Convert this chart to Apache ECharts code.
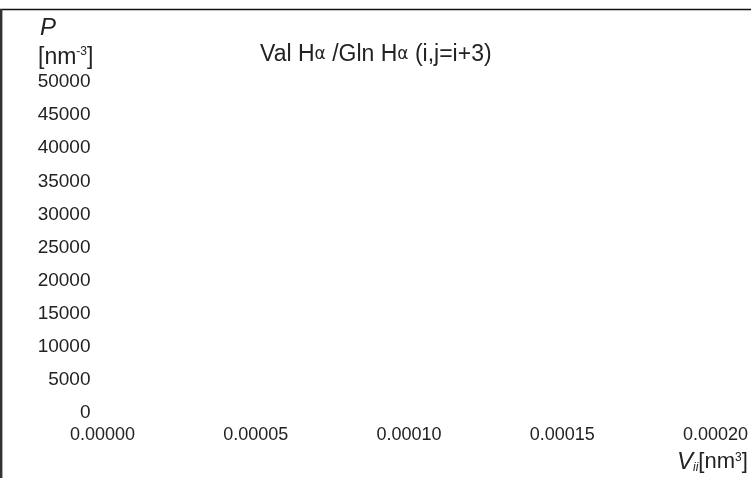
<!DOCTYPE html>
<html>
<head>
<meta charset="utf-8">
<script src="https://cdn.jsdelivr.net/npm/echarts@6/dist/echarts.min.js"></script>
<style>
  html, body { margin: 0; padding: 0; background: #fff; }
  #draw { width: 751px; height: 478px; }
</style>
</head>
<body>
<div id="draw"></div>
<script>
// empty plot: only the axes frame and labels
var yRange = [0, 50000];
var yStep = 5000;
var xRange = [0, 0.0002];
var xStep = 0.00005;
var points = [];

var textColor = '#222';
var font = 'Liberation Sans';

var myChart = echarts.init(document.getElementById('draw'));

var option = {
	animation: false,
	backgroundColor: '#fff',
	title: {
		text: 'Val H{a|α} /Gln H{a|α} (i,j=i+3)',
		left: 255,
		top: 38,
		textStyle: {
			fontFamily: font,
			fontSize: 23,
			fontWeight: 'normal',
			color: textColor,
			rich: {
				a: { fontFamily: 'DejaVu Sans', fontSize: 17, color: textColor }
			}
		}
	},
	grid: { left: 102.5, right: 29, top: 82, bottom: 65 },
	xAxis: {
		type: 'value',
		min: xRange[0],
		max: xRange[1],
		interval: xStep,
		axisLine: { show: false },
		axisTick: { show: false },
		splitLine: { show: false },
		axisLabel: {
			margin: 13,
			fontFamily: font,
			fontSize: 18,
			color: textColor,
			showMaxLabel: true,
			formatter: function (v) { return v.toFixed(5); }
		}
	},
	yAxis: {
		type: 'value',
		min: yRange[0],
		max: yRange[1],
		interval: yStep,
		axisLine: { show: false },
		axisTick: { show: false },
		splitLine: { show: false },
		axisLabel: {
			margin: 12,
			fontFamily: font,
			fontSize: 19,
			color: textColor,
			formatter: function (v) { return String(v); }
		}
	},
	graphic: [
		{
			type: 'line',
			shape: { x1: 0, y1: 9.5, x2: 751, y2: 9.5 },
			style: { stroke: '#111', lineWidth: 1.5 }
		},
		{
			type: 'line',
			shape: { x1: 1.2, y1: 9, x2: 1.2, y2: 478 },
			style: { stroke: '#333', lineWidth: 2.4 }
		},
		{
			type: 'text',
			left: 40,
			top: 16,
			style: {
				text: 'P',
				font: 'italic 24px "Liberation Sans"',
				fill: textColor
			}
		},
		{
			type: 'text',
			left: 38,
			top: 46,
			style: {
				text: '[nm{s|-3}]',
				fontFamily: font,
				fontSize: 23,
				fill: textColor,
				rich: {
					s: { fontFamily: font, fontSize: 12, verticalAlign: 'top', padding: [0, 0, 9, 0] }
				}
			}
		},
		{
			type: 'text',
			left: 677,
			top: 450,
			style: {
				text: '{v|V}{i|ii}[nm{s|3}]',
				fontFamily: font,
				fontSize: 22,
				fill: textColor,
				rich: {
					v: { fontFamily: font, fontSize: 24, fontStyle: 'italic' },
					i: { fontFamily: font, fontSize: 12, fontStyle: 'italic', padding: [11, 0, 0, 0] },
					s: { fontFamily: font, fontSize: 12, padding: [0, 0, 9, 0] }
				}
			}
		}
	],
	series: [{
		type: 'scatter',
		data: points
	}]
};

myChart.setOption(option);
</script>
</body>
</html>
